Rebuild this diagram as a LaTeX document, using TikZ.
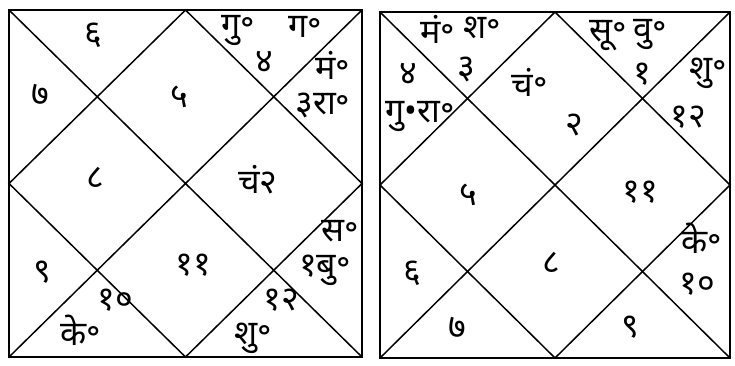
\documentclass[tikz,border=0pt]{standalone}
\usepackage{fontspec}
\newfontfamily\devfont[Script=Devanagari]{Noto Sans}

\begin{document}
\begin{tikzpicture}[x=1pt,y=-1pt,
  frame/.style={line width=2.6pt},
  cusp/.style={line width=1.5pt},
  graha/.style={font=\devfont\fontsize{34}{36}\selectfont, inner sep=0pt}]
 \useasboundingbox (0,0) rectangle (735,365);
 \begin{scope}[shift={(9,10)}]
  \coordinate (TL) at (0,0);
  \coordinate (TR) at (353,0);
  \coordinate (BR) at (353,347);
  \coordinate (BL) at (0,347);
  \coordinate (T) at (176.5,0);
  \coordinate (R) at (353,173.5);
  \coordinate (B) at (176.5,347);
  \coordinate (L) at (0,173.5);
  \draw[cusp] (TL)--(BR) (TR)--(BL);
  \draw[cusp] (T)--(R)--(B)--(L)--cycle;
  \draw[frame] (TL) rectangle (BR);
  \node[graha] (l1) at (170,87) {५};
  \node[graha] (l2) at (84,25) {६};
  \node[graha] (l3) at (31,85) {७};
  \node[graha] (l4) at (86,168) {८};
  \node[graha] (l5) at (33,262) {९};
  \node[graha] (l6) at (106,290) {१०};
  \node[graha] (l6p) at (72,320) {के॰};
  \node[graha] (l7) at (184,255) {११};
  \node[graha] (l8) at (272,290) {१२};
  \node[graha] (l8p) at (244,328) {शु॰};
  \node[graha] (l9p) at (331,221) {स॰};
  \node[graha] (l9) at (316,260) {१बु॰};
  \node[graha] (l10) at (249,170) {चं२};
  \node[graha] (l11p) at (324,55) {मं॰};
  \node[graha] (l11) at (314,95) {३रा॰};
  \node[graha] (l12p) at (229,20) {गु॰};
  \node[graha] (l12) at (255,52) {४};
  \node[graha] (l12q) at (296,17) {ग॰};
 \end{scope}
 \begin{scope}[shift={(380,12)}]
  \coordinate (TL) at (0,0);
  \coordinate (TR) at (350,0);
  \coordinate (BR) at (350,346);
  \coordinate (BL) at (0,346);
  \coordinate (T) at (175,0);
  \coordinate (R) at (350,173);
  \coordinate (B) at (175,346);
  \coordinate (L) at (0,173);
  \draw[cusp] (TL)--(BR) (TR)--(BL);
  \draw[cusp] (T)--(R)--(B)--(L)--cycle;
  \draw[frame] (TL) rectangle (BR);
  \node[graha] (r1p) at (150,70) {चं॰};
  \node[graha] (r1) at (194,113) {२};
  \node[graha] (r2p) at (58,17) {मं॰};
  \node[graha] (r2q) at (102,16) {श॰};
  \node[graha] (r2) at (86,57) {३};
  \node[graha] (r3) at (28,62) {४};
  \node[graha] (r3p) at (40,104) {गु•रा॰};
  \node[graha] (r4) at (88,183) {५};
  \node[graha] (r5) at (32,261) {६};
  \node[graha] (r6) at (77,316) {७};
  \node[graha] (r7) at (171,251) {८};
  \node[graha] (r8) at (250,315) {९};
  \node[graha] (r9p) at (322,226) {के॰};
  \node[graha] (r9) at (317,272) {१०};
  \node[graha] (r10) at (260,180) {११};
  \node[graha] (r11p) at (328,61) {शु॰};
  \node[graha] (r11) at (308,105) {१२};
  \node[graha] (r12p) at (228,24) {सू॰};
  \node[graha] (r12q) at (270,22) {वु॰};
  \node[graha] (r12) at (262,62) {१};
 \end{scope}
\end{tikzpicture}
\end{document}
